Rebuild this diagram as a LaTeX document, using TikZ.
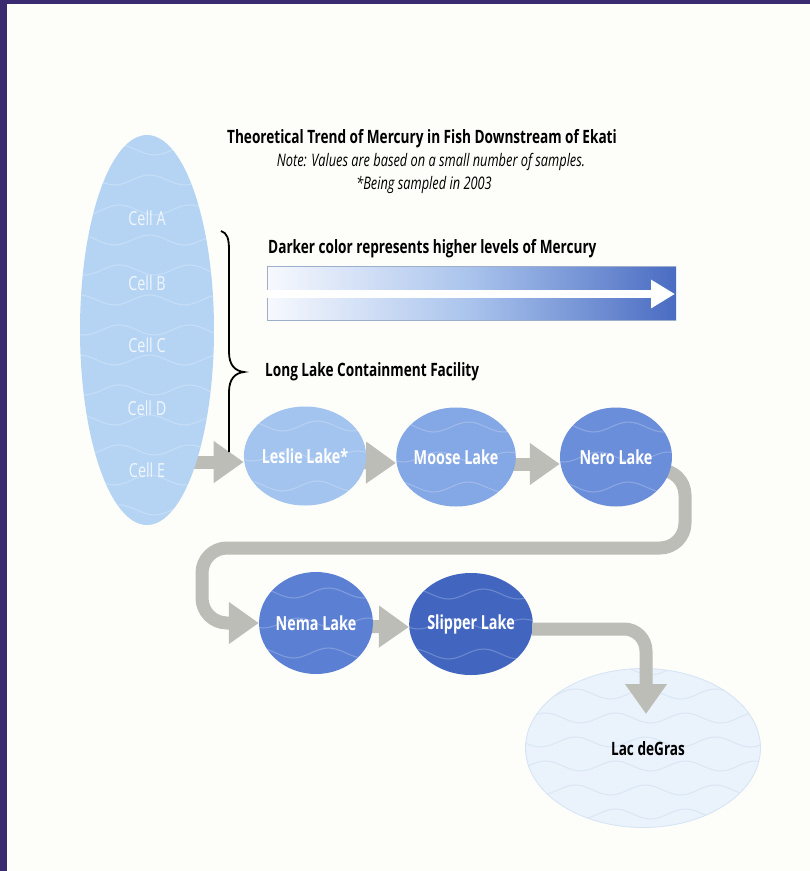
\documentclass[tikz,border=0pt]{standalone}
\usepackage{fontspec}
\setmainfont{Open Sans}[FakeStretch=0.74]
\usetikzlibrary{arrows.meta,shapes.geometric,calc}
\pgfdeclarelayer{paper}
\pgfdeclarelayer{bg}
\pgfdeclarelayer{fg}
\pgfsetlayers{paper,bg,main,fg}
\definecolor{pagebg}{HTML}{FDFEF9}
\definecolor{frame}{HTML}{3A2A6F}
\definecolor{cellfill}{HTML}{B5D4F4}
\definecolor{lesliec}{HTML}{A3C4EF}
\definecolor{moosec}{HTML}{84A7E5}
\definecolor{neroc}{HTML}{6A8EDA}
\definecolor{nemac}{HTML}{5B80D3}
\definecolor{slipperc}{HTML}{4266C0}
\definecolor{lacc}{HTML}{EAF2FB}
\definecolor{lacborder}{HTML}{D5E3F3}
\definecolor{agray}{HTML}{BDBDB7}
\definecolor{barright}{HTML}{4A6CC2}
\definecolor{barmid}{HTML}{A9C3EC}
\definecolor{barleft}{HTML}{F7F9FE}
\newcommand\wavepath{sin ++(17.5,5) cos ++(17.5,-5) sin ++(17.5,-5) cos ++(17.5,5)
 sin ++(17.5,5) cos ++(17.5,-5) sin ++(17.5,-5) cos ++(17.5,5)
 sin ++(17.5,5) cos ++(17.5,-5) sin ++(17.5,-5) cos ++(17.5,5)
 sin ++(17.5,5) cos ++(17.5,-5) sin ++(17.5,-5) cos ++(17.5,5)}
\tikzset{
  wavy/.style={path picture={
    \foreach \dy [count=\i] in {-210,-180,...,210} {
      \draw[white,opacity=0.22,line width=1.1pt]
        ([xshift={-140pt+mod(\i,2)*30pt},yshift=\dy pt]path picture bounding box.center) \wavepath;
    }}},
  lake/.style={ellipse, inner sep=0pt, minimum width=112pt, minimum height=99pt,
    text=white, font=\bfseries\fontsize{19.4}{22}\selectfont, wavy},
  celllabel/.style={text=white!80!cellfill, font=\fontsize{19.4}{22}\selectfont},
  grayarrow/.style={draw=agray, line width=13pt, -{Triangle[width=40pt,length=30pt]}},
  boldlabel/.style={font=\bfseries\fontsize{18.4}{21}\selectfont, anchor=west, inner sep=0pt},
  notelabel/.style={font=\itshape\fontsize{17.3}{20}\selectfont, inner sep=0pt},
}
\begin{document}
\begin{tikzpicture}[x=1pt,y=-1pt]
\useasboundingbox (0,0) rectangle (810,871);
\begin{pgfonlayer}{paper}
\fill[pagebg] (0,0) rectangle (810,871);
\fill[frame] (0,0) rectangle (7,871);
\fill[frame] (0,0) rectangle (810,4);
\end{pgfonlayer}

% titles
\node[font=\bfseries\fontsize{18.4}{21}\selectfont, inner sep=0pt] (title) at (422,139)
  {Theoretical Trend of Mercury in Fish Downstream of Ekati};
\node[notelabel] (note) at (431,162) {Note: Values are based on a small number of samples.};
\node[notelabel] (being) at (424,185) {*Being sampled in 2003};

% legend bar
\node[boldlabel] (darker) at (268,249) {Darker color represents higher levels of Mercury};
\shade[left color=barleft, right color=barright, middle color=barmid] (267,266) rectangle (676,320);
\draw[draw=barmid!70!gray, line width=0.6pt] (676,266) -- (267,266) -- (267,320) -- (676,320);
\coordinate (barstart) at (267,294);
\coordinate (barend) at (675,294);
\draw[white, line width=8pt, -{Triangle[width=27pt,length=24pt]}] (barstart) -- (barend);

% containment cells
\node[ellipse, inner sep=0pt, minimum width=134pt, minimum height=390pt, fill=cellfill,
  path picture={
    \foreach \dy [count=\i] in {-210,-180,...,210} {
      \draw[white,opacity=0.22,line width=1.1pt]
        ([xshift={-150pt+mod(\i,2)*30pt},yshift=\dy pt]path picture bounding box.center) \wavepath;
    }
    \foreach \yy in {243,310,378,445} {\draw[white, line width=2.2pt] (60,\yy) -- (240,\yy);}
  }] (cells) at (147,330) {};
\node[celllabel] (cellA) at (147,218) {Cell A};
\node[celllabel] (cellB) at (147,283) {Cell B};
\node[celllabel] (cellC) at (147,345) {Cell C};
\node[celllabel] (cellD) at (147,408) {Cell D};
\node[celllabel] (cellE) at (147,470) {Cell E};

% brace
\draw[black, line width=1.8pt]
  (221,231) .. controls (227,233) and (229,238) .. (229,250) -- (229,352)
  .. controls (229,365) and (235,371) .. (244,372)
  .. controls (235,373) and (229,379) .. (229,392) -- (229,452);
\node[boldlabel] (longlake) at (265,372) {Long Lake Containment Facility};

% lakes
\node[lake, fill=lesliec] (leslie) at (305,456) {Leslie Lake*};
\node[lake, fill=moosec, minimum width=106pt] (moose) at (456,457) {Moose Lake};
\node[lake, fill=neroc] (nero) at (616,457) {Nero Lake};
\node[lake, fill=nemac, minimum height=102pt] (nema) at (316,623) {Nema Lake};
\node[lake, fill=slipperc, minimum height=102pt] (slipper) at (471,624) {Slipper Lake};
\node[ellipse, inner sep=0pt, minimum width=235pt, minimum height=159pt, fill=lacc,
  draw=lacborder, line width=0.8pt,
  path picture={
    \foreach \dy [count=\i] in {-90,-66,...,90} {
      \draw[lacborder,opacity=0.8,line width=1pt]
        ([xshift={-150pt+mod(\i,2)*30pt},yshift=\dy pt]path picture bounding box.center) \wavepath;
    }}] (lac) at (643,748) {};
\node[font=\bfseries\fontsize{18.4}{21}\selectfont, inner sep=0pt] (laclabel) at (648,749) {Lac deGras};

% connectors
\coordinate (loopA) at (685,548);
\coordinate (loopB) at (202,548);
\coordinate (lacin) at (646,714);
\begin{pgfonlayer}{bg}
\draw[grayarrow] ($(cells.center |- leslie.center)+(0,6)$) -- ($(leslie.west)+(0,6)$);
\draw[grayarrow] ($(leslie.center)+(0,6)$) -- ($(moose.west)+(0,6)$);
\draw[grayarrow] ($(moose.center)+(0,7)$) -- ($(nero.west)+(0,7)$);
\draw[grayarrow, rounded corners=25pt] ($(nero.center)+(0,13)$) -| (loopA) -- (loopB) |- (nema.west);
\draw[grayarrow] ($(nema.center)+(0,3)$) -- ($(slipper.west)+(0,3)$);
\end{pgfonlayer}
\begin{pgfonlayer}{fg}
\draw[grayarrow, rounded corners=22pt] ($(slipper.east)+(-1,5)$) -| (lacin);
\end{pgfonlayer}
\end{tikzpicture}
\end{document}
